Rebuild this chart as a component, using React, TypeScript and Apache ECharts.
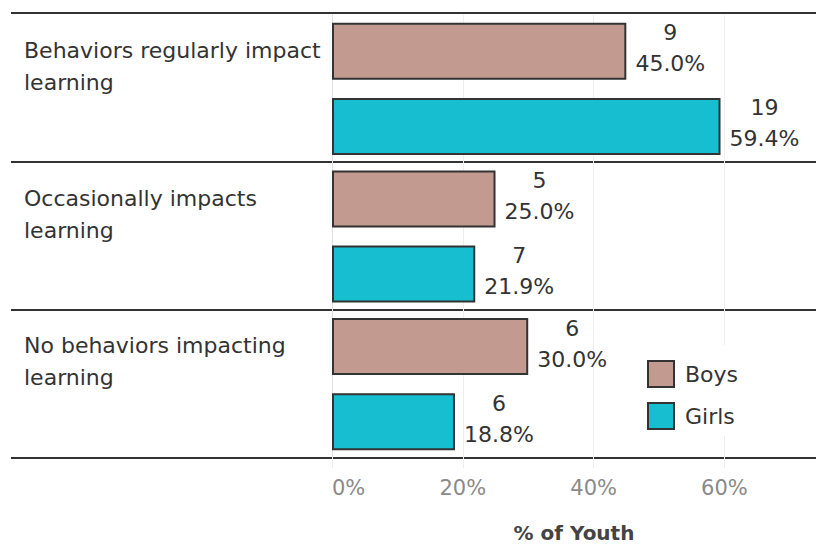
import React, { useEffect, useRef } from "react";
import * as echarts from "echarts";

const categories = [
  "Behaviors regularly impact\nlearning",
  "Occasionally impacts\nlearning",
  "No behaviors impacting\nlearning",
];
const seriesNames = ["Boys", "Girls"];
const boysPct = [45.0, 25.0, 30.0];
const boysCount = [9, 5, 6];
const girlsPct = [59.4, 21.9, 18.8];
const girlsCount = [19, 7, 6];
const axisTicks = [0, 20, 40, 60];
const axisTitle = "% of Youth";

const FONT = "DejaVu Sans";
const DARK = "#333333";

export default function App() {
  const ref = useRef<HTMLDivElement>(null);
  useEffect(() => {
    const chart = echarts.init(ref.current!, null, { renderer: "svg" });
    const counts = [boysCount, girlsCount];
    const colors = ["#C39A8F", "#17BECF"];
    const pcts = [boysPct, girlsPct];
    chart.setOption({
      animation: false,
      textStyle: { fontFamily: FONT },
      grid: [
        { left: 332, right: 0, top: 15, bottom: 88, containLabel: false, outerBoundsMode: "none" },
        { left: 11, right: 0, top: 13, bottom: 88, containLabel: false, outerBoundsMode: "none" },
      ],
      xAxis: [
        {
          type: "value",
          gridIndex: 0,
          min: 0,
          max: 74,
          interval: 20,
          axisLine: { show: false },
          axisTick: { show: true, length: 10, lineStyle: { color: "#eeeeee" } },
          splitLine: { show: true, lineStyle: { color: "#eeeeee", width: 1 } },
          axisLabel: {
            color: "#8a8a8a",
            fontSize: 21,
            fontFamily: FONT,
            margin: 19,
            alignMinLabel: "left",
            formatter: (v: number) => (axisTicks.includes(v) ? v + "%" : ""),
          },
          name: axisTitle,
          nameLocation: "middle",
          nameGap: 65,
          nameTextStyle: { fontSize: 20, fontWeight: "bold", color: "#444444", fontFamily: FONT },
        },
        { type: "value", gridIndex: 1, show: false },
      ],
      yAxis: [
        {
          type: "category",
          gridIndex: 0,
          inverse: true,
          data: categories,
          axisLine: { show: true, lineStyle: { color: "#dddddd", type: "dotted" } },
          axisTick: { show: false },
          axisLabel: {
            align: "left",
            margin: 308,
            fontSize: 22,
            lineHeight: 32,
            color: DARK,
            fontFamily: FONT,
            formatter: (v: string) => v + "\n{s| }",
            rich: { s: { lineHeight: 45, fontSize: 10 } },
          },
        },
        {
          type: "category",
          gridIndex: 1,
          inverse: true,
          data: categories,
          axisLine: { show: false },
          axisTick: { show: false },
          axisLabel: { show: false },
          splitLine: { show: true, lineStyle: { color: DARK, width: 2 } },
        },
      ],
      legend: {
        orient: "vertical",
        left: 647,
        top: 345,
        padding: [15, 12, 6, 0],
        backgroundColor: "#ffffff",
        itemWidth: 26,
        itemHeight: 26,
        itemGap: 14,
        icon: "rect",
        itemStyle: { borderColor: DARK, borderWidth: 2 },
        textStyle: { fontSize: 22, color: DARK, fontFamily: FONT, padding: [0, 0, 0, 6] },
        data: seriesNames,
      },
      series: seriesNames.map((name, si) => ({
        name,
        type: "bar",
        xAxisIndex: 0,
        yAxisIndex: 0,
        data: pcts[si],
        barWidth: 57,
        barGap: "32%",
        itemStyle: { color: colors[si], borderColor: DARK, borderWidth: 2 },
        label: {
          show: true,
          position: "right",
          distance: 0,
          align: "center",
          offset: [44, -3],
          fontSize: 22,
          lineHeight: 31,
          color: DARK,
          fontFamily: FONT,
          formatter: (p: any) => `${counts[si][p.dataIndex]}\n${p.value.toFixed(1)}%`,
        },
      })),
    });
    return () => chart.dispose();
  }, []);
  return (
    <div
      ref={ref}
      style={{ position: "absolute", left: 0, top: 0, width: 816, height: 546, background: "#fff" }}
    />
  );
}
